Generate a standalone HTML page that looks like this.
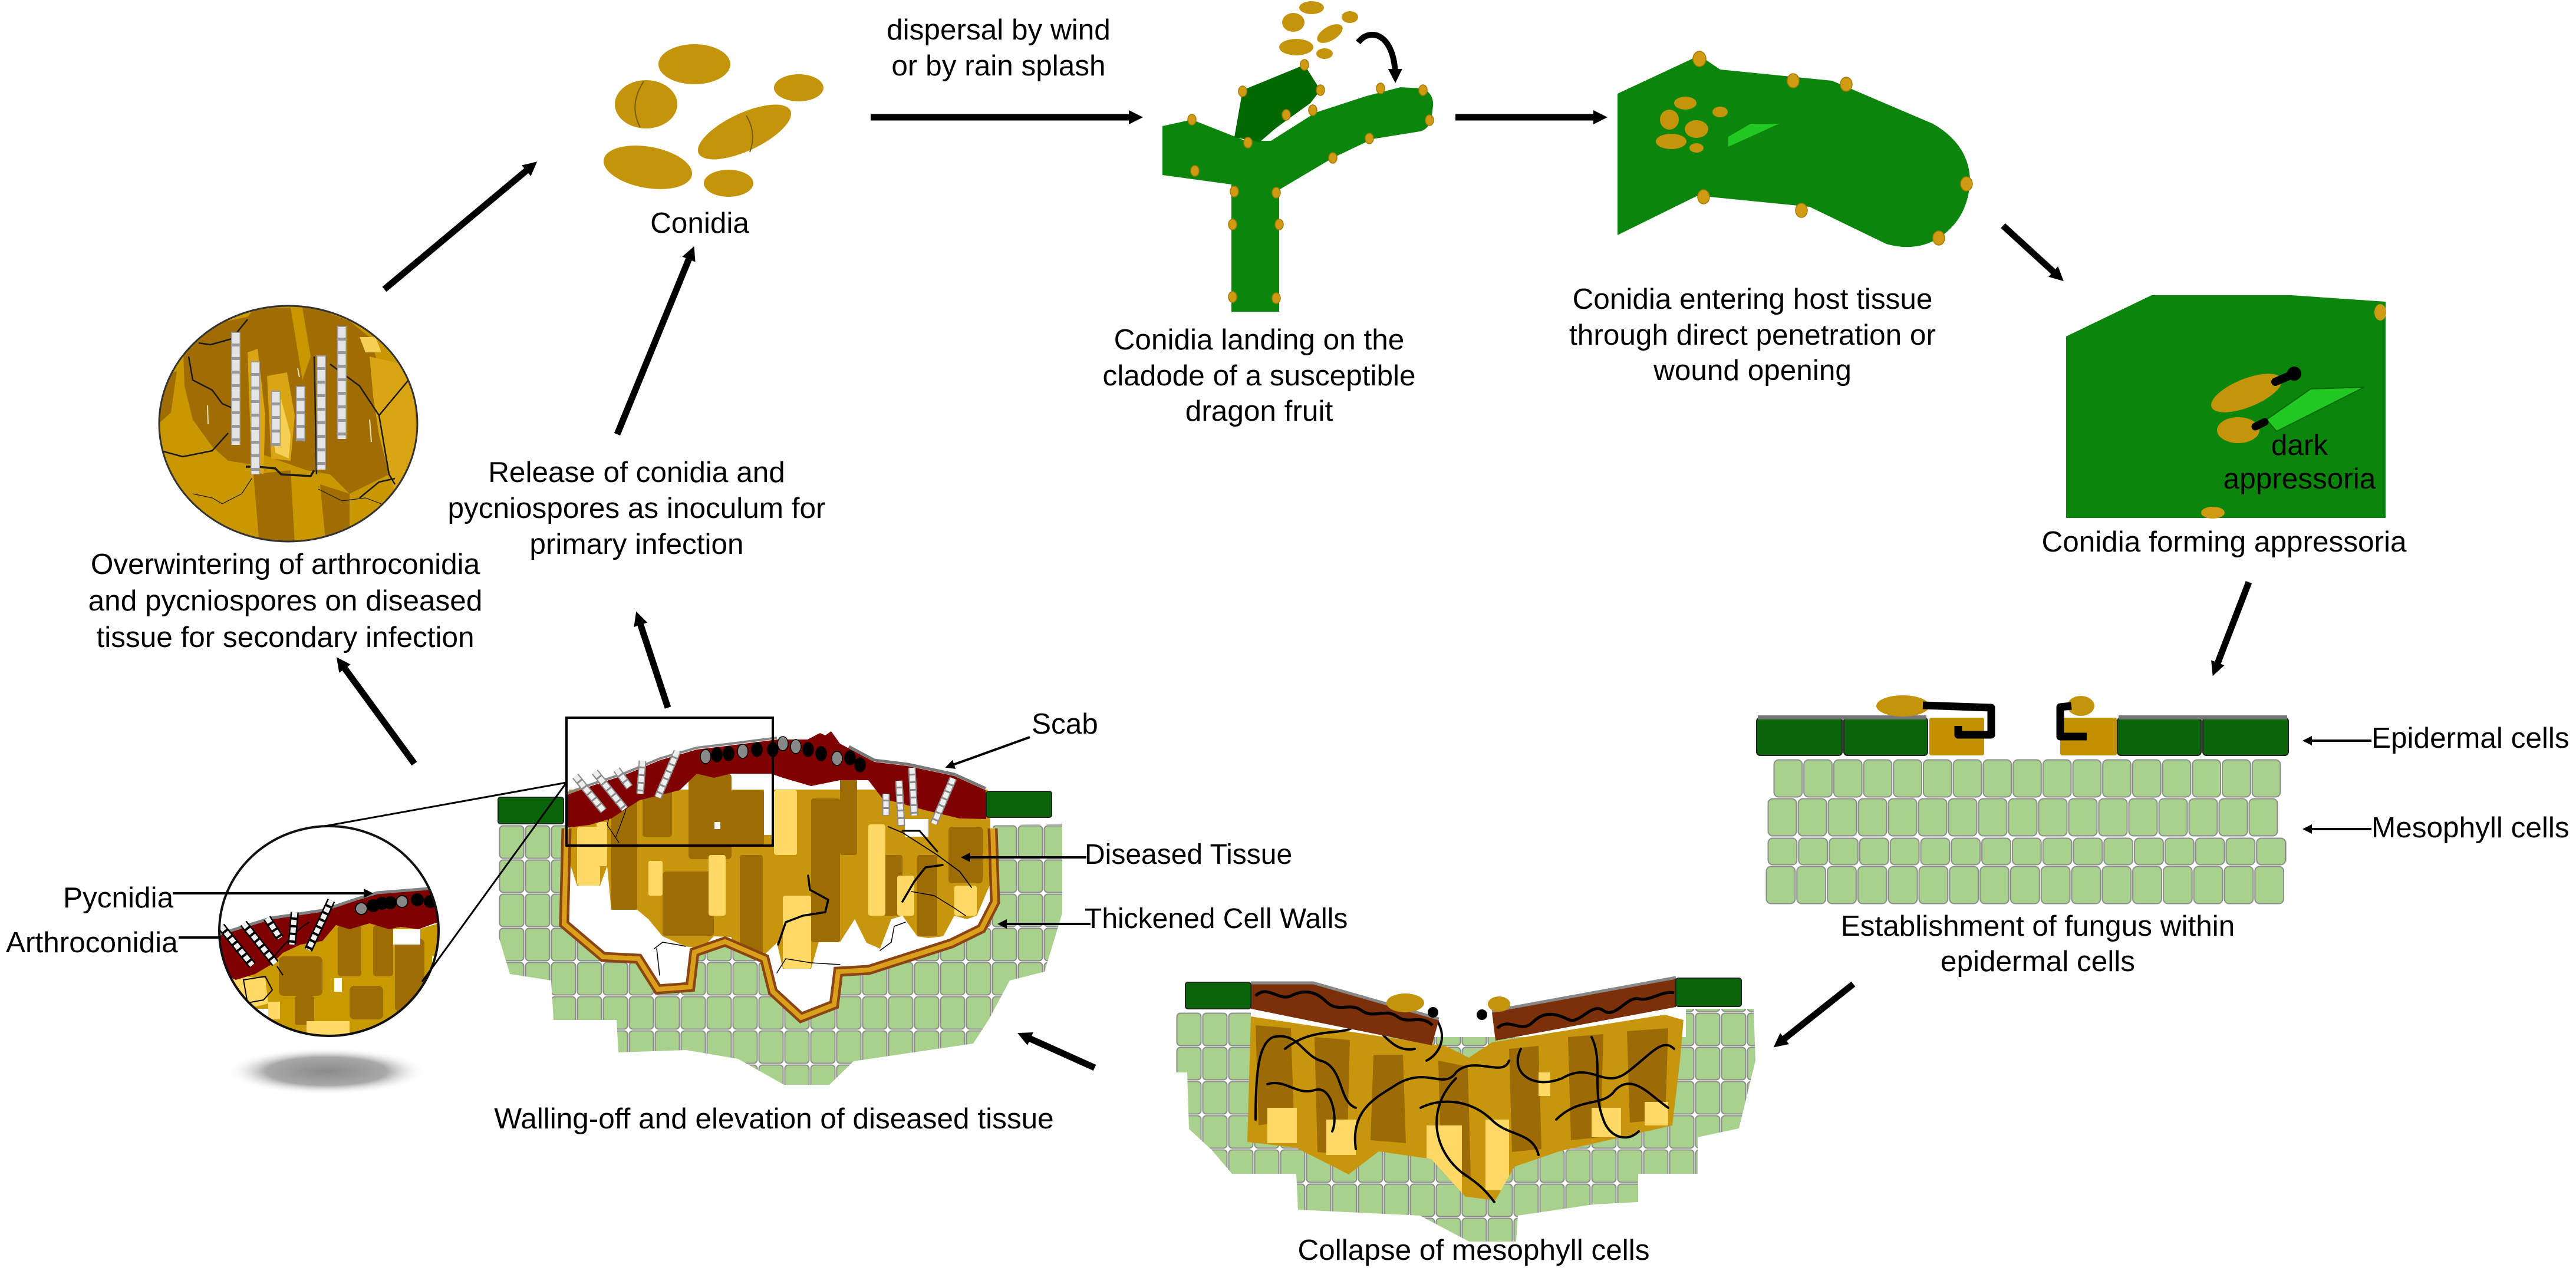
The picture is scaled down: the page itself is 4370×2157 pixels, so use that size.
<!DOCTYPE html>
<html><head><meta charset="utf-8">
<style>
html,body{margin:0;padding:0;background:#fff;}
svg{display:block;}
text{font-family:"Liberation Sans",Arial,sans-serif;font-size:49.5px;fill:#000;}
</style></head><body>
<svg width="4370" height="2157" viewBox="0 0 4370 2157" xmlns="http://www.w3.org/2000/svg">
<defs>
<marker id="ah" viewBox="0 0 10 10" refX="5" refY="5" markerWidth="26" markerHeight="24" markerUnits="userSpaceOnUse" orient="auto"><path d="M0,0 L10,5 L0,10 z" fill="#000"/></marker>
<marker id="sh" viewBox="0 0 10 10" refX="5" refY="5" markerWidth="18" markerHeight="16" markerUnits="userSpaceOnUse" orient="auto"><path d="M0,0 L10,5 L0,10 z" fill="#000"/></marker>
<pattern id="mc" patternUnits="userSpaceOnUse" x="846" y="1400" width="44" height="58"><rect x="1.5" y="1.5" width="41" height="55" rx="6" fill="#a9d18e" stroke="#8c8c8c" stroke-width="2"/></pattern>
<pattern id="mc2" patternUnits="userSpaceOnUse" x="1995" y="1718" width="44" height="58"><rect x="1.5" y="1.5" width="41" height="55" rx="6" fill="#a9d18e" stroke="#8c8c8c" stroke-width="2"/></pattern>
<pattern id="r1" patternUnits="userSpaceOnUse" x="3008" y="1288" width="50.7" height="66"><rect x="1.5" y="1.5" width="47.7" height="63" rx="8" fill="#a9d18e" stroke="#8c8c8c" stroke-width="2"/></pattern>
<pattern id="r2" patternUnits="userSpaceOnUse" x="2998" y="1354" width="51" height="66"><rect x="1.5" y="1.5" width="48" height="63" rx="8" fill="#a9d18e" stroke="#8c8c8c" stroke-width="2"/></pattern>
<pattern id="r3" patternUnits="userSpaceOnUse" x="2998" y="1421" width="51.8" height="48"><rect x="1.5" y="1.5" width="48.8" height="45" rx="8" fill="#a9d18e" stroke="#8c8c8c" stroke-width="2"/></pattern>
<pattern id="r4" patternUnits="userSpaceOnUse" x="2995" y="1469" width="51.8" height="66"><rect x="1.5" y="1.5" width="48.8" height="63" rx="8" fill="#a9d18e" stroke="#8c8c8c" stroke-width="2"/></pattern>
<clipPath id="c1"><ellipse cx="489" cy="719" rx="219" ry="200"/></clipPath>
<clipPath id="c2"><ellipse cx="558" cy="1580" rx="186" ry="178"/></clipPath>
<clipPath id="inner"><path d="M961,1406 L957,1568 L1023,1624 L1083,1627 L1116,1679 L1171,1675 L1178,1616 L1230,1598 L1297,1627 L1311,1683 L1359,1727 L1415,1705 L1422,1649 L1474,1646 L1614,1601 L1665,1576 L1688,1531 L1684,1406 L1673,1320 L1400,1220 L961,1320 Z"/></clipPath>
<clipPath id="ctis"><path d="M2122,1725 L2429,1772 L2454,1776 L2492,1795 L2531,1769 L2824,1722 L2856,1731 L2850,1800 L2837,1910 L2728,1935 L2645,1954 L2569,1980 L2537,2037 L2486,2031 L2428,1967 L2339,1954 L2288,1993 L2199,1948 L2116,1938 Z"/></clipPath>
<radialGradient id="sg"><stop offset="0" stop-color="#8a8a8a"/><stop offset="0.6" stop-color="#a8a8a8"/><stop offset="1" stop-color="#ffffff" stop-opacity="0"/></radialGradient>
</defs>

<!-- ========== CONIDIA CLUSTER ========== -->
<g fill="#c4950b">
<ellipse cx="1178" cy="109" rx="61" ry="34"/>
<ellipse cx="1096" cy="177" rx="53" ry="41"/>
<ellipse cx="1355" cy="149" rx="42" ry="23"/>
<ellipse cx="1263" cy="224" rx="86" ry="32" transform="rotate(-25 1263 224)"/>
<ellipse cx="1099" cy="284" rx="76" ry="35" transform="rotate(10 1099 284)"/>
<ellipse cx="1236" cy="311" rx="42" ry="23"/>
</g>
<path d="M1092,138 Q1066,178 1086,216" stroke="#7a5c00" fill="none" stroke-width="2"/>
<path d="M1266,196 Q1284,226 1272,258" stroke="#7a5c00" fill="none" stroke-width="2"/>
<text x="1187" y="395" text-anchor="middle">Conidia</text>

<!-- ========== OVERWINTERING CIRCLE ========== -->
<g clip-path="url(#c1)">
<rect x="260" y="510" width="460" height="420" fill="#c99700"/>
<g fill="#9f6d02">
<polygon points="310,572 370,548 420,538 433,522 560,522 560,805 520,798 447,772 427,788 387,782 360,758 327,712 313,655"/>
<polygon points="560,532 593,545 627,572 643,622 633,672 643,738 660,805 593,838 560,805"/>
<polygon points="430,805 493,798 500,925 440,925"/>
<polygon points="543,822 593,838 593,925 553,925"/>
<polygon points="268,640 300,630 290,700 268,720"/>
</g>
<g fill="#c99700">
<polygon points="493,522 513,522 527,605 513,645"/>
<polygon points="268,720 300,700 330,770 300,800 268,790"/>
</g>
<g fill="#d9a514">
<polygon points="420,598 437,592 450,705 447,805 427,798"/>
<polygon points="453,638 487,632 500,705 493,782 460,778"/>
<polygon points="627,605 700,622 707,772 670,838 643,738 633,672"/>
</g>
<g fill="#f6cf55">
<polygon points="460,692 477,678 493,738 490,778 467,768"/>
<polygon points="610,572 637,572 647,598 620,598"/>
</g>
<g stroke="#f0e0b0" stroke-width="2" fill="none"><line x1="352" y1="688" x2="353" y2="720"/><line x1="627" y1="712" x2="630" y2="750"/><line x1="505" y1="625" x2="508" y2="640"/></g>
<g stroke="#1a1a1a" stroke-width="2.5" fill="none" stroke-linejoin="round">
<polyline points="320,605 327,645 360,662 377,685 393,692"/>
<polyline points="337,582 357,585 393,575 420,542"/>
<polyline points="273,765 310,775 360,765 387,735"/>
<polyline points="417,792 437,792 467,795 477,805 527,808 533,798" stroke-width="3.5"/>
<polyline points="533,605 537,805"/>
<polyline points="560,618 610,655 643,705 693,645"/>
<polyline points="643,705 660,805 670,822"/>
<polyline points="610,845 643,818 670,812"/>
<polyline points="327,838 360,845 377,855 410,838 427,812" stroke-width="1.2"/>
<polyline points="540,830 580,850 620,845 660,860" stroke-width="1.2"/>
</g>
<g fill="none" stroke-linecap="butt">
<g stroke="#999" stroke-width="16">
<line x1="400" y1="563" x2="400" y2="755"/><line x1="433" y1="613" x2="433" y2="805"/><line x1="468" y1="663" x2="468" y2="757"/><line x1="510" y1="655" x2="510" y2="749"/><line x1="545" y1="603" x2="545" y2="797"/><line x1="580" y1="553" x2="580" y2="745"/>
</g>
<g stroke="#e4e4e4" stroke-width="13" stroke-dasharray="18 5">
<line x1="400" y1="565" x2="400" y2="755"/><line x1="433" y1="615" x2="433" y2="805"/><line x1="468" y1="665" x2="468" y2="757"/><line x1="510" y1="657" x2="510" y2="749"/><line x1="545" y1="605" x2="545" y2="797"/><line x1="580" y1="555" x2="580" y2="745"/>
</g>
</g>
</g>
<ellipse cx="489" cy="719" rx="219" ry="200" fill="none" stroke="#333" stroke-width="3"/>
<text text-anchor="middle"><tspan x="484" y="974">Overwintering of arthroconidia</tspan><tspan x="484" y="1036">and pycniospores on diseased</tspan><tspan x="484" y="1098">tissue for secondary infection</tspan></text>
<text text-anchor="middle"><tspan x="1080" y="818">Release of conidia and</tspan><tspan x="1080" y="879">pycniospores as inoculum for</tspan><tspan x="1080" y="940">primary infection</tspan></text>

<!-- ========== CLADODE ========== -->
<text text-anchor="middle"><tspan x="1694" y="67">dispersal by wind</tspan><tspan x="1694" y="128">or by rain splash</tspan></text>
<path d="M1972,214 L2022,203 L2113,239 L2156,239 L2232,191 L2318,163 L2376,148 L2414,150 Q2433,160 2431,180 L2428,204 Q2422,220 2409,223 L2328,236 L2261,268 L2170,322 L2170,529 L2089,529 L2089,313 L1972,297 Z" fill="#0b850b"/>
<path d="M2108,153 L2213,110 L2240,153 L2223,175 L2165,217 L2137,241 L2094,233 Z" fill="#006a00"/>
<g fill="#cf9b12" stroke="#a67a08" stroke-width="1.5">
<ellipse cx="2022" cy="203" rx="7" ry="9"/><ellipse cx="2108" cy="155" rx="7" ry="9"/><ellipse cx="2213" cy="110" rx="7" ry="9"/><ellipse cx="2240" cy="153" rx="7" ry="9"/><ellipse cx="2182" cy="195" rx="7" ry="9"/><ellipse cx="2227" cy="187" rx="7" ry="9"/><ellipse cx="2117" cy="242" rx="7" ry="9"/><ellipse cx="2027" cy="290" rx="7" ry="9"/><ellipse cx="2094" cy="325" rx="7" ry="9"/><ellipse cx="2165" cy="327" rx="7" ry="9"/><ellipse cx="2091" cy="381" rx="7" ry="9"/><ellipse cx="2170" cy="381" rx="7" ry="9"/><ellipse cx="2091" cy="504" rx="7" ry="9"/><ellipse cx="2165" cy="506" rx="7" ry="9"/><ellipse cx="2261" cy="268" rx="7" ry="9"/><ellipse cx="2323" cy="235" rx="7" ry="9"/><ellipse cx="2342" cy="150" rx="7" ry="9"/><ellipse cx="2414" cy="153" rx="7" ry="9"/><ellipse cx="2425" cy="204" rx="7" ry="9"/>
</g>
<g fill="#c4950b">
<ellipse cx="2225" cy="13" rx="21" ry="11"/><ellipse cx="2194" cy="38" rx="19" ry="16"/><ellipse cx="2290" cy="29" rx="14" ry="10"/><ellipse cx="2256" cy="57" rx="24" ry="12" transform="rotate(-30 2256 57)"/><ellipse cx="2199" cy="80" rx="29" ry="14"/><ellipse cx="2247" cy="91" rx="14" ry="9"/>
</g>
<path d="M2304,72 C2325,45 2366,58 2367,129" stroke="#000" stroke-width="10" fill="none" marker-end="url(#ah)"/>
<text text-anchor="middle"><tspan x="2136" y="593">Conidia landing on the</tspan><tspan x="2136" y="654">cladode of a susceptible</tspan><tspan x="2136" y="714">dragon fruit</tspan></text>

<!-- ========== LEAF (ENTERING) ========== -->
<path d="M2744,159 L2883,94 L2918,118 L3108,137 L3279,210 Q3340,245 3342,305 Q3340,370 3289,404 Q3250,428 3200,414 L3070,351 L2880,332 L2744,399 Z" fill="#0b850b"/>
<polygon points="2932,249 2932,232 2970,210 3018,210" fill="#22c922"/>
<g fill="#c4950b">
<ellipse cx="2859" cy="175" rx="19" ry="11"/><ellipse cx="2832" cy="203" rx="16" ry="17"/><ellipse cx="2878" cy="219" rx="20" ry="15"/><ellipse cx="2835" cy="240" rx="26" ry="13"/><ellipse cx="2878" cy="251" rx="12" ry="8"/><ellipse cx="2918" cy="190" rx="13" ry="9"/>
</g>
<g fill="#cf9b12" stroke="#a67a08" stroke-width="1.5">
<ellipse cx="2883" cy="100" rx="11" ry="13"/><ellipse cx="3042" cy="137" rx="10" ry="12"/><ellipse cx="3132" cy="143" rx="10" ry="12"/><ellipse cx="3336" cy="312" rx="10" ry="12"/><ellipse cx="3289" cy="404" rx="10" ry="12"/><ellipse cx="3056" cy="357" rx="10" ry="12"/><ellipse cx="2890" cy="334" rx="10" ry="12"/>
</g>
<text text-anchor="middle"><tspan x="2973" y="524">Conidia entering host tissue</tspan><tspan x="2973" y="585">through direct penetration or</tspan><tspan x="2973" y="645">wound opening</tspan></text>

<!-- ========== APPRESSORIA PANEL ========== -->
<polygon points="3505,571 3650,501 3887,501 4047,512 4047,879 3505,879" fill="#0b850b"/>
<polygon points="3845,712 3920,660 4011,657 3862,732" fill="#22c922" stroke="#0a6a0a" stroke-width="2"/>
<ellipse cx="3811" cy="667" rx="64" ry="24" transform="rotate(-22 3811 667)" fill="#c4950b"/>
<line x1="3860" y1="648" x2="3888" y2="636" stroke="#000" stroke-width="14" stroke-linecap="round"/>
<circle cx="3892" cy="634" r="12" fill="#000"/>
<ellipse cx="3797" cy="730" rx="36" ry="22" fill="#c4950b"/>
<line x1="3826" y1="724" x2="3842" y2="716" stroke="#000" stroke-width="13" stroke-linecap="round"/>
<ellipse cx="4038" cy="530" rx="10" ry="14" fill="#cf9b12"/>
<ellipse cx="3754" cy="870" rx="20" ry="10" fill="#cf9b12"/>
<text text-anchor="middle"><tspan x="3901" y="772">dark</tspan><tspan x="3901" y="829">appressoria</tspan></text>
<text x="3773" y="936" text-anchor="middle">Conidia forming appressoria</text>

<!-- ========== ESTABLISHMENT ========== -->
<g stroke="#222" stroke-width="2">
<rect x="2980" y="1218" width="145" height="64" rx="6" fill="#0a650a"/>
<rect x="3128" y="1218" width="142" height="64" rx="6" fill="#0a650a"/>
<rect x="3273" y="1218" width="93" height="64" rx="3" fill="#c39000" stroke="none"/>
<rect x="3495" y="1218" width="96" height="64" rx="3" fill="#c39000" stroke="none"/>
<rect x="3592" y="1218" width="142" height="64" rx="6" fill="#0a650a"/>
<rect x="3737" y="1218" width="145" height="64" rx="6" fill="#0a650a"/>
</g>
<g fill="#777"><rect x="2982" y="1214" width="286" height="7"/><rect x="3594" y="1214" width="286" height="7"/></g>
<ellipse cx="3228" cy="1198" rx="45" ry="18" fill="#c4950b"/>
<path d="M3262,1197 L3378,1201 L3378,1247 L3322,1247 L3322,1232" stroke="#000" stroke-width="13" fill="none" stroke-linejoin="round"/>
<ellipse cx="3530" cy="1198" rx="23" ry="17" fill="#c4950b"/>
<path d="M3514,1198 L3495,1200 L3495,1250 L3540,1250" stroke="#000" stroke-width="13" fill="none" stroke-linejoin="round"/>
<rect x="3008" y="1288" width="862" height="66" fill="url(#r1)"/>
<rect x="2998" y="1354" width="867" height="66" fill="url(#r2)"/>
<rect x="2998" y="1421" width="882" height="48" fill="url(#r3)"/>
<rect x="2995" y="1469" width="880" height="66" fill="url(#r4)"/>
<text text-anchor="middle"><tspan x="3457" y="1588">Establishment of fungus within</tspan><tspan x="3457" y="1648">epidermal cells</tspan></text>
<text x="4023" y="1269">Epidermal cells</text>
<text x="4023" y="1421">Mesophyll cells</text>
<line x1="4023" y1="1257" x2="3914" y2="1257" stroke="#000" stroke-width="4" marker-end="url(#sh)"/>
<line x1="4023" y1="1407" x2="3914" y2="1407" stroke="#000" stroke-width="4" marker-end="url(#sh)"/>

<!-- ========== COLLAPSE ========== -->
<path d="M1995,1718 L2122,1718 L2122,1760 L2860,1760 L2860,1712 L2975,1712 L2978,1800 L2950,1915 L2880,1930 L2880,1992 L2779,1992 L2779,2040 L2703,2044 L2575,2063 L2572,2107 L2492,2107 L2409,2063 L2202,2053 L2199,1992 L2090,1992 L2055,1951 L2017,1916 L2014,1820 L1995,1820 Z" fill="url(#mc2)"/>
<path d="M2122,1725 L2429,1772 L2454,1776 L2492,1795 L2531,1769 L2824,1722 L2856,1731 L2850,1800 L2837,1910 L2728,1935 L2645,1954 L2569,1980 L2537,2037 L2486,2031 L2428,1967 L2339,1954 L2288,1993 L2199,1948 L2116,1938 Z" fill="#c8960c"/>
<g clip-path="url(#ctis)">
<g fill="#9c6b05">
<polygon points="2130,1740 2190,1745 2195,1900 2135,1910"/><polygon points="2230,1760 2290,1765 2285,1960 2235,1955"/><polygon points="2330,1790 2380,1790 2385,1940 2325,1935"/><polygon points="2440,1800 2490,1810 2495,2000 2445,1990"/><polygon points="2560,1780 2610,1775 2615,1950 2565,1955"/><polygon points="2660,1760 2720,1755 2715,1930 2665,1935"/><polygon points="2760,1750 2830,1745 2825,1900 2765,1905"/>
</g>
<g fill="#ffd966">
<rect x="2150" y="1880" width="50" height="60"/><rect x="2250" y="1900" width="50" height="60"/><rect x="2420" y="1910" width="60" height="120"/><rect x="2520" y="1900" width="40" height="120"/><rect x="2700" y="1880" width="50" height="50"/><rect x="2790" y="1870" width="40" height="40"/><rect x="2610" y="1820" width="20" height="40"/>
</g>
</g>
<g stroke="#000" stroke-width="4" fill="none" stroke-linecap="round">
<path d="M2130,1900 C2130,1820 2135,1770 2160,1760 C2200,1750 2210,1790 2240,1800 C2280,1810 2270,1870 2300,1880"/>
<path d="M2180,1780 C2230,1740 2280,1760 2300,1740 C2340,1720 2350,1790 2400,1780"/>
<path d="M2300,1950 C2290,1880 2340,1860 2370,1840 C2420,1810 2450,1850 2470,1820 C2500,1790 2550,1830 2560,1800"/>
<path d="M2470,1830 C2420,1880 2430,1950 2480,1990 C2510,2010 2520,2020 2535,2040"/>
<path d="M2410,1880 C2450,1860 2500,1870 2530,1900 C2560,1930 2600,1920 2610,1960"/>
<path d="M2580,1780 C2560,1820 2600,1850 2650,1830 C2700,1800 2720,1850 2760,1820 C2800,1790 2820,1760 2840,1780"/>
<path d="M2640,1900 C2680,1860 2720,1880 2740,1850 C2770,1820 2800,1860 2830,1880"/>
<path d="M2700,1760 C2720,1800 2700,1850 2720,1900 C2730,1930 2760,1940 2780,1920"/>
<path d="M2150,1840 C2180,1830 2200,1860 2230,1850 C2260,1840 2270,1900 2260,1920"/>
<path d="M2433,1725 C2460,1760 2440,1790 2420,1800"/>
</g>
<polygon points="2122,1670 2228,1670 2441,1731 2429,1774 2122,1712" fill="#7b3009"/>
<polygon points="2531,1718 2843,1661 2843,1709 2537,1766" fill="#7b3009"/>
<polyline points="2122,1668 2228,1668 2441,1729" stroke="#888" stroke-width="5" fill="none"/>
<polyline points="2531,1716 2843,1659" stroke="#888" stroke-width="5" fill="none"/>
<path d="M2130,1690 C2150,1670 2170,1700 2190,1690 S2230,1680 2250,1700 S2290,1700 2310,1715 S2350,1710 2370,1725 S2410,1720 2430,1740" stroke="#000" stroke-width="5" fill="none"/>
<path d="M2540,1745 C2560,1725 2580,1755 2600,1735 S2640,1720 2660,1730 S2700,1700 2720,1715 S2760,1690 2780,1695 S2820,1680 2840,1685" stroke="#000" stroke-width="5" fill="none"/>
<rect x="2011" y="1667" width="111" height="45" rx="4" fill="#0a650a" stroke="#222" stroke-width="2"/>
<rect x="2843" y="1660" width="111" height="48" rx="4" fill="#0a650a" stroke="#222" stroke-width="2"/>
<ellipse cx="2384" cy="1702" rx="32" ry="16" fill="#c4950b"/>
<ellipse cx="2543" cy="1704" rx="19" ry="13" fill="#c4950b"/>
<circle cx="2431" cy="1718" r="9" fill="#000"/>
<circle cx="2514" cy="1722" r="9" fill="#000"/>
<text x="2500" y="2138" text-anchor="middle">Collapse of mesophyll cells</text>

<!-- ========== LESION (WALLING-OFF) ========== -->
<path d="M846,1400 L960,1400 L957,1568 L1023,1624 L1083,1627 L1116,1679 L1171,1675 L1178,1616 L1230,1598 L1297,1627 L1311,1683 L1359,1727 L1415,1705 L1422,1649 L1474,1646 L1614,1601 L1665,1576 L1688,1531 L1684,1400 L1802,1398 L1802,1550 L1772,1649 L1713,1664 L1677,1731 L1651,1771 L1448,1801 L1407,1841 L1330,1841 L1252,1797 L1164,1782 L1049,1786 L1046,1731 L939,1731 L935,1664 L865,1653 L846,1590 Z" fill="url(#mc)"/>
<g clip-path="url(#inner)">
<polygon points="965,1340 1680,1340 1680,1500 1657,1554 1640,1560 1619,1554 1600,1589 1575,1592 1556,1589 1531,1554 1512,1560 1493,1610 1470,1600 1450,1560 1425,1599 1400,1560 1376,1644 1328,1644 1318,1600 1294,1623 1255,1623 1240,1590 1211,1589 1190,1610 1163,1606 1124,1589 1100,1560 1081,1544 1037,1544 1030,1470 1018,1503 979,1503 965,1460" fill="#c8960c"/>
<g fill="#9e6c05">
<rect x="1037" y="1358" width="44" height="186" rx="4"/>
<rect x="1124" y="1479" width="87" height="110" rx="6"/>
<rect x="1090" y="1330" width="50" height="90" rx="4"/>
<rect x="1168" y="1313" width="73" height="145" rx="6"/>
<rect x="1241" y="1341" width="55" height="93" rx="4"/>
<rect x="1255" y="1451" width="39" height="172" rx="4"/>
<rect x="1376" y="1355" width="49" height="244" rx="4"/>
<rect x="1425" y="1313" width="29" height="138" rx="4"/>
<rect x="1488" y="1451" width="43" height="103" rx="4"/>
<rect x="1556" y="1451" width="34" height="138" rx="4"/>
<rect x="1609" y="1403" width="58" height="96" rx="6"/>
</g>
<g fill="#ffd966">
<rect x="979" y="1403" width="39" height="100" rx="4"/>
<rect x="1012" y="1395" width="18" height="75" rx="3"/>
<rect x="1100" y="1461" width="24" height="59" rx="3"/>
<rect x="1202" y="1451" width="29" height="103" rx="4"/>
<rect x="1313" y="1341" width="39" height="110" rx="4"/>
<rect x="1328" y="1520" width="48" height="124" rx="4"/>
<rect x="1473" y="1399" width="29" height="155" rx="4"/>
<rect x="1522" y="1486" width="29" height="68" rx="4"/>
<rect x="1619" y="1503" width="38" height="51" rx="4"/>
</g>
<g fill="#fff">
<rect x="1296" y="1313" width="16" height="104"/>
<rect x="1250" y="1316" width="46" height="22"/>
<rect x="1212" y="1395" width="10" height="12"/>
<rect x="1535" y="1390" width="40" height="30"/>
</g>
</g>
<g stroke="#000" fill="none" stroke-linecap="round" stroke-linejoin="round">
<polyline points="1371,1486 1374,1510 1405,1527 1400,1548 1362,1554 1333,1565 1320,1603" stroke-width="3.5"/>
<polyline points="1599,1468 1570,1472 1551,1496 1531,1530" stroke-width="3.5"/>
<polyline points="1507,1403 1531,1413 1590,1451 1628,1479 1648,1506" stroke-width="1.8"/>
<polyline points="1531,1410 1560,1410 1590,1445" stroke-width="3"/>
<polyline points="1546,1513 1585,1520 1619,1541 1638,1554" stroke-width="1.5"/>
<polyline points="1536,1565 1517,1572 1512,1599 1493,1613" stroke-width="1.5"/>
<polyline points="1110,1610 1124,1599 1148,1603 1163,1606" stroke-width="1.5"/>
<polyline points="1114,1610 1119,1655" stroke-width="1.5"/>
<polyline points="1318,1651 1333,1627 1376,1634 1425,1637" stroke-width="1.5"/>
<polyline points="1040,1360 1030,1400 1050,1430" stroke-width="1.2"/>
<polyline points="1070,1345 1060,1380 1045,1420" stroke-width="1.2"/>
</g>
<path d="M959,1350 L1000,1335 L1060,1315 L1120,1290 L1182,1272 L1240,1265 L1318,1255 L1370,1255 L1391,1244 L1400,1248 L1410,1241 L1425,1262 L1440,1270 L1483,1293 L1540,1300 L1619,1317 L1672,1341 L1673,1390 L1628,1389 L1570,1375 L1497,1355 L1473,1324 L1425,1324 L1376,1334 L1328,1320 L1308,1313 L1240,1313 L1211,1320 L1182,1313 L1153,1341 L1085,1358 L1037,1389 L1000,1400 L959,1405 Z" fill="#7f0000"/>
<polyline points="959,1347 1000,1332 1060,1312 1120,1287 1182,1269 1240,1262 1318,1252" stroke="#888" stroke-width="4" fill="none"/>
<polyline points="1440,1267 1483,1290 1540,1297 1619,1314 1672,1338" stroke="#777" stroke-width="5" fill="none"/>
<path d="M961,1406 L957,1568 L1023,1624 L1083,1627 L1116,1679 L1171,1675 L1178,1616 L1230,1598 L1297,1627 L1311,1683 L1359,1727 L1415,1705 L1422,1649 L1474,1646 L1614,1601 L1665,1576 L1688,1531 L1684,1406" stroke="#8b4513" stroke-width="17" fill="none" stroke-linejoin="miter"/>
<path d="M961,1406 L957,1568 L1023,1624 L1083,1627 L1116,1679 L1171,1675 L1178,1616 L1230,1598 L1297,1627 L1311,1683 L1359,1727 L1415,1705 L1422,1649 L1474,1646 L1614,1601 L1665,1576 L1688,1531 L1684,1406" stroke="#dba01a" stroke-width="8" fill="none" stroke-linejoin="miter"/>
<g fill="none">
<g stroke="#8a8a8a" stroke-width="13">
<line x1="976" y1="1317" x2="1024" y2="1376"/><line x1="1009" y1="1310" x2="1060" y2="1373"/><line x1="1046" y1="1306" x2="1068" y2="1336"/><line x1="1090" y1="1291" x2="1086" y2="1347"/><line x1="1149" y1="1275" x2="1116" y2="1353"/>
<line x1="1503" y1="1347" x2="1503" y2="1384"/><line x1="1525" y1="1325" x2="1529" y2="1402"/><line x1="1547" y1="1303" x2="1551" y2="1384"/><line x1="1617" y1="1321" x2="1584" y2="1398"/>
</g>
<g stroke="#eeeeee" stroke-width="9" stroke-dasharray="10 3">
<line x1="976" y1="1317" x2="1024" y2="1376"/><line x1="1009" y1="1310" x2="1060" y2="1373"/><line x1="1046" y1="1306" x2="1068" y2="1336"/><line x1="1090" y1="1291" x2="1086" y2="1347"/><line x1="1149" y1="1275" x2="1116" y2="1353"/>
<line x1="1503" y1="1347" x2="1503" y2="1384"/><line x1="1525" y1="1325" x2="1529" y2="1402"/><line x1="1547" y1="1303" x2="1551" y2="1384"/><line x1="1617" y1="1321" x2="1584" y2="1398"/>
</g>
</g>
<g stroke="#000" stroke-width="1.5">
<ellipse cx="1197" cy="1284" rx="9" ry="12" fill="#888"/><ellipse cx="1216" cy="1281" rx="9" ry="12" fill="#000"/><ellipse cx="1236" cy="1279" rx="9" ry="12" fill="#000"/><ellipse cx="1260" cy="1275" rx="9" ry="12" fill="#888"/><ellipse cx="1284" cy="1272" rx="9" ry="12" fill="#000"/><ellipse cx="1311" cy="1272" rx="9" ry="12" fill="#000"/><ellipse cx="1328" cy="1262" rx="9" ry="12" fill="#888"/><ellipse cx="1350" cy="1267" rx="9" ry="12" fill="#888"/><ellipse cx="1371" cy="1272" rx="9" ry="12" fill="#000"/><ellipse cx="1393" cy="1279" rx="9" ry="12" fill="#000"/><ellipse cx="1420" cy="1287" rx="9" ry="12" fill="#888"/><ellipse cx="1442" cy="1286" rx="9" ry="12" fill="#000"/><ellipse cx="1459" cy="1298" rx="9" ry="12" fill="#000"/>
</g>
<rect x="845" y="1353" width="111" height="45" rx="4" fill="#0a650a" stroke="#222" stroke-width="2"/>
<rect x="1673" y="1343" width="111" height="44" rx="4" fill="#0a650a" stroke="#222" stroke-width="2"/>
<rect x="961" y="1218" width="350" height="217" fill="none" stroke="#000" stroke-width="4"/>
<text x="1750" y="1245">Scab</text>
<text x="1840" y="1466" style="font-size:48px">Diseased Tissue</text>
<text x="1840" y="1575" style="font-size:48px">Thickened Cell Walls</text>
<line x1="1747" y1="1251" x2="1611" y2="1300" stroke="#000" stroke-width="4" marker-end="url(#sh)"/>
<line x1="1843" y1="1455" x2="1638" y2="1455" stroke="#000" stroke-width="4" marker-end="url(#sh)"/>
<line x1="1850" y1="1568" x2="1700" y2="1568" stroke="#000" stroke-width="4" marker-end="url(#sh)"/>
<text x="1313" y="1915" text-anchor="middle">Walling-off and elevation of diseased tissue</text>

<!-- ========== MAGNIFIER ========== -->
<ellipse cx="554" cy="1818" rx="170" ry="40" fill="url(#sg)"/>
<g clip-path="url(#c2)">
<rect x="360" y="1390" width="400" height="380" fill="#fff"/>
<polygon points="400,1663 433,1653 460,1637 480,1617 510,1603 547,1597 570,1570 593,1577 627,1567 660,1577 680,1573 710,1577 745,1567 745,1770 420,1770 420,1720 400,1700" fill="#c99a00"/>
<g fill="#9e6c05">
<rect x="473" y="1623" width="74" height="67" rx="8"/><rect x="573" y="1570" width="40" height="87" rx="6"/><rect x="633" y="1570" width="34" height="87" rx="6"/><rect x="670" y="1593" width="50" height="124" rx="8"/><rect x="593" y="1673" width="57" height="57" rx="8"/><rect x="500" y="1690" width="33" height="50" rx="5"/>
</g>
<g fill="#ffd966">
<polygon points="373,1645 413,1657 450,1660 455,1703 420,1712 390,1690"/><rect x="520" y="1733" width="73" height="30"/><rect x="455" y="1700" width="20" height="30"/>
</g>
<g fill="#fff"><rect x="667" y="1577" width="46" height="26"/><rect x="567" y="1660" width="13" height="23"/><rect x="425" y="1712" width="30" height="25"/><rect x="733" y="1623" width="12" height="27"/></g>
<polygon points="373,1587 460,1560 547,1547 607,1527 640,1517 727,1510 750,1508 750,1567 737,1567 710,1577 680,1573 660,1577 627,1567 593,1577 570,1570 547,1597 510,1603 480,1617 460,1637 433,1653 400,1663 373,1650" fill="#7f0000"/>
<polyline points="373,1585 460,1558 547,1545 607,1525 640,1515 727,1508 750,1506" stroke="#808080" stroke-width="5" fill="none"/>
<g stroke="#000" stroke-width="2" fill="none"><path d="M413,1663 L450,1657 L462,1680 L447,1697 L420,1702 Z"/><path d="M460,1630 Q475,1610 490,1595 L505,1580 Q515,1570 525,1565"/><path d="M470,1640 L480,1655"/></g>
<g fill="none">
<g stroke="#000" stroke-width="14">
<line x1="375" y1="1572" x2="428" y2="1638"/><line x1="413" y1="1567" x2="467" y2="1635"/><line x1="453" y1="1558" x2="475" y2="1592"/><line x1="500" y1="1548" x2="495" y2="1603"/><line x1="562" y1="1528" x2="523" y2="1612"/>
</g>
<g stroke="#f0f0f0" stroke-width="9" stroke-dasharray="9 4">
<line x1="375" y1="1572" x2="428" y2="1638"/><line x1="413" y1="1567" x2="467" y2="1635"/><line x1="453" y1="1558" x2="475" y2="1592"/><line x1="500" y1="1548" x2="495" y2="1603"/><line x1="562" y1="1528" x2="523" y2="1612"/>
</g>
</g>
<g stroke="#000" stroke-width="2">
<circle cx="613" cy="1542" r="10" fill="#888"/><circle cx="633" cy="1537" r="10" fill="#000"/><circle cx="648" cy="1533" r="10" fill="#000"/><circle cx="662" cy="1532" r="10" fill="#000"/><circle cx="682" cy="1530" r="10" fill="#888"/><circle cx="708" cy="1527" r="10" fill="#000"/><circle cx="730" cy="1530" r="10" fill="#000"/>
</g>
</g>
<ellipse cx="558" cy="1580" rx="186" ry="178" fill="none" stroke="#111" stroke-width="4"/>
<line x1="551" y1="1402" x2="961" y2="1328" stroke="#000" stroke-width="3"/>
<line x1="716" y1="1666" x2="961" y2="1328" stroke="#000" stroke-width="3"/>
<text x="107" y="1540">Pycnidia</text>
<text x="10" y="1616">Arthroconidia</text>
<line x1="293" y1="1516" x2="625" y2="1516" stroke="#000" stroke-width="4" marker-end="url(#sh)"/>
<line x1="303" y1="1591" x2="375" y2="1591" stroke="#000" stroke-width="4"/>

<!-- ========== MAIN ARROWS ========== -->
<g stroke="#000" stroke-width="11" marker-end="url(#ah)">
<line x1="652" y1="491" x2="902" y2="282"/>
<line x1="1047" y1="737" x2="1173" y2="429"/>
<line x1="1477" y1="199" x2="1927" y2="199"/>
<line x1="2469" y1="199" x2="2715" y2="199"/>
<line x1="3398" y1="383" x2="3492" y2="469"/>
<line x1="3815" y1="988" x2="3758" y2="1136"/>
<line x1="3144" y1="1670" x2="3018" y2="1770"/>
<line x1="1857" y1="1812" x2="1737" y2="1758"/>
<line x1="1133" y1="1201" x2="1083" y2="1049"/>
<line x1="703" y1="1296" x2="578" y2="1125"/>
</g>
</svg>
</body></html>
